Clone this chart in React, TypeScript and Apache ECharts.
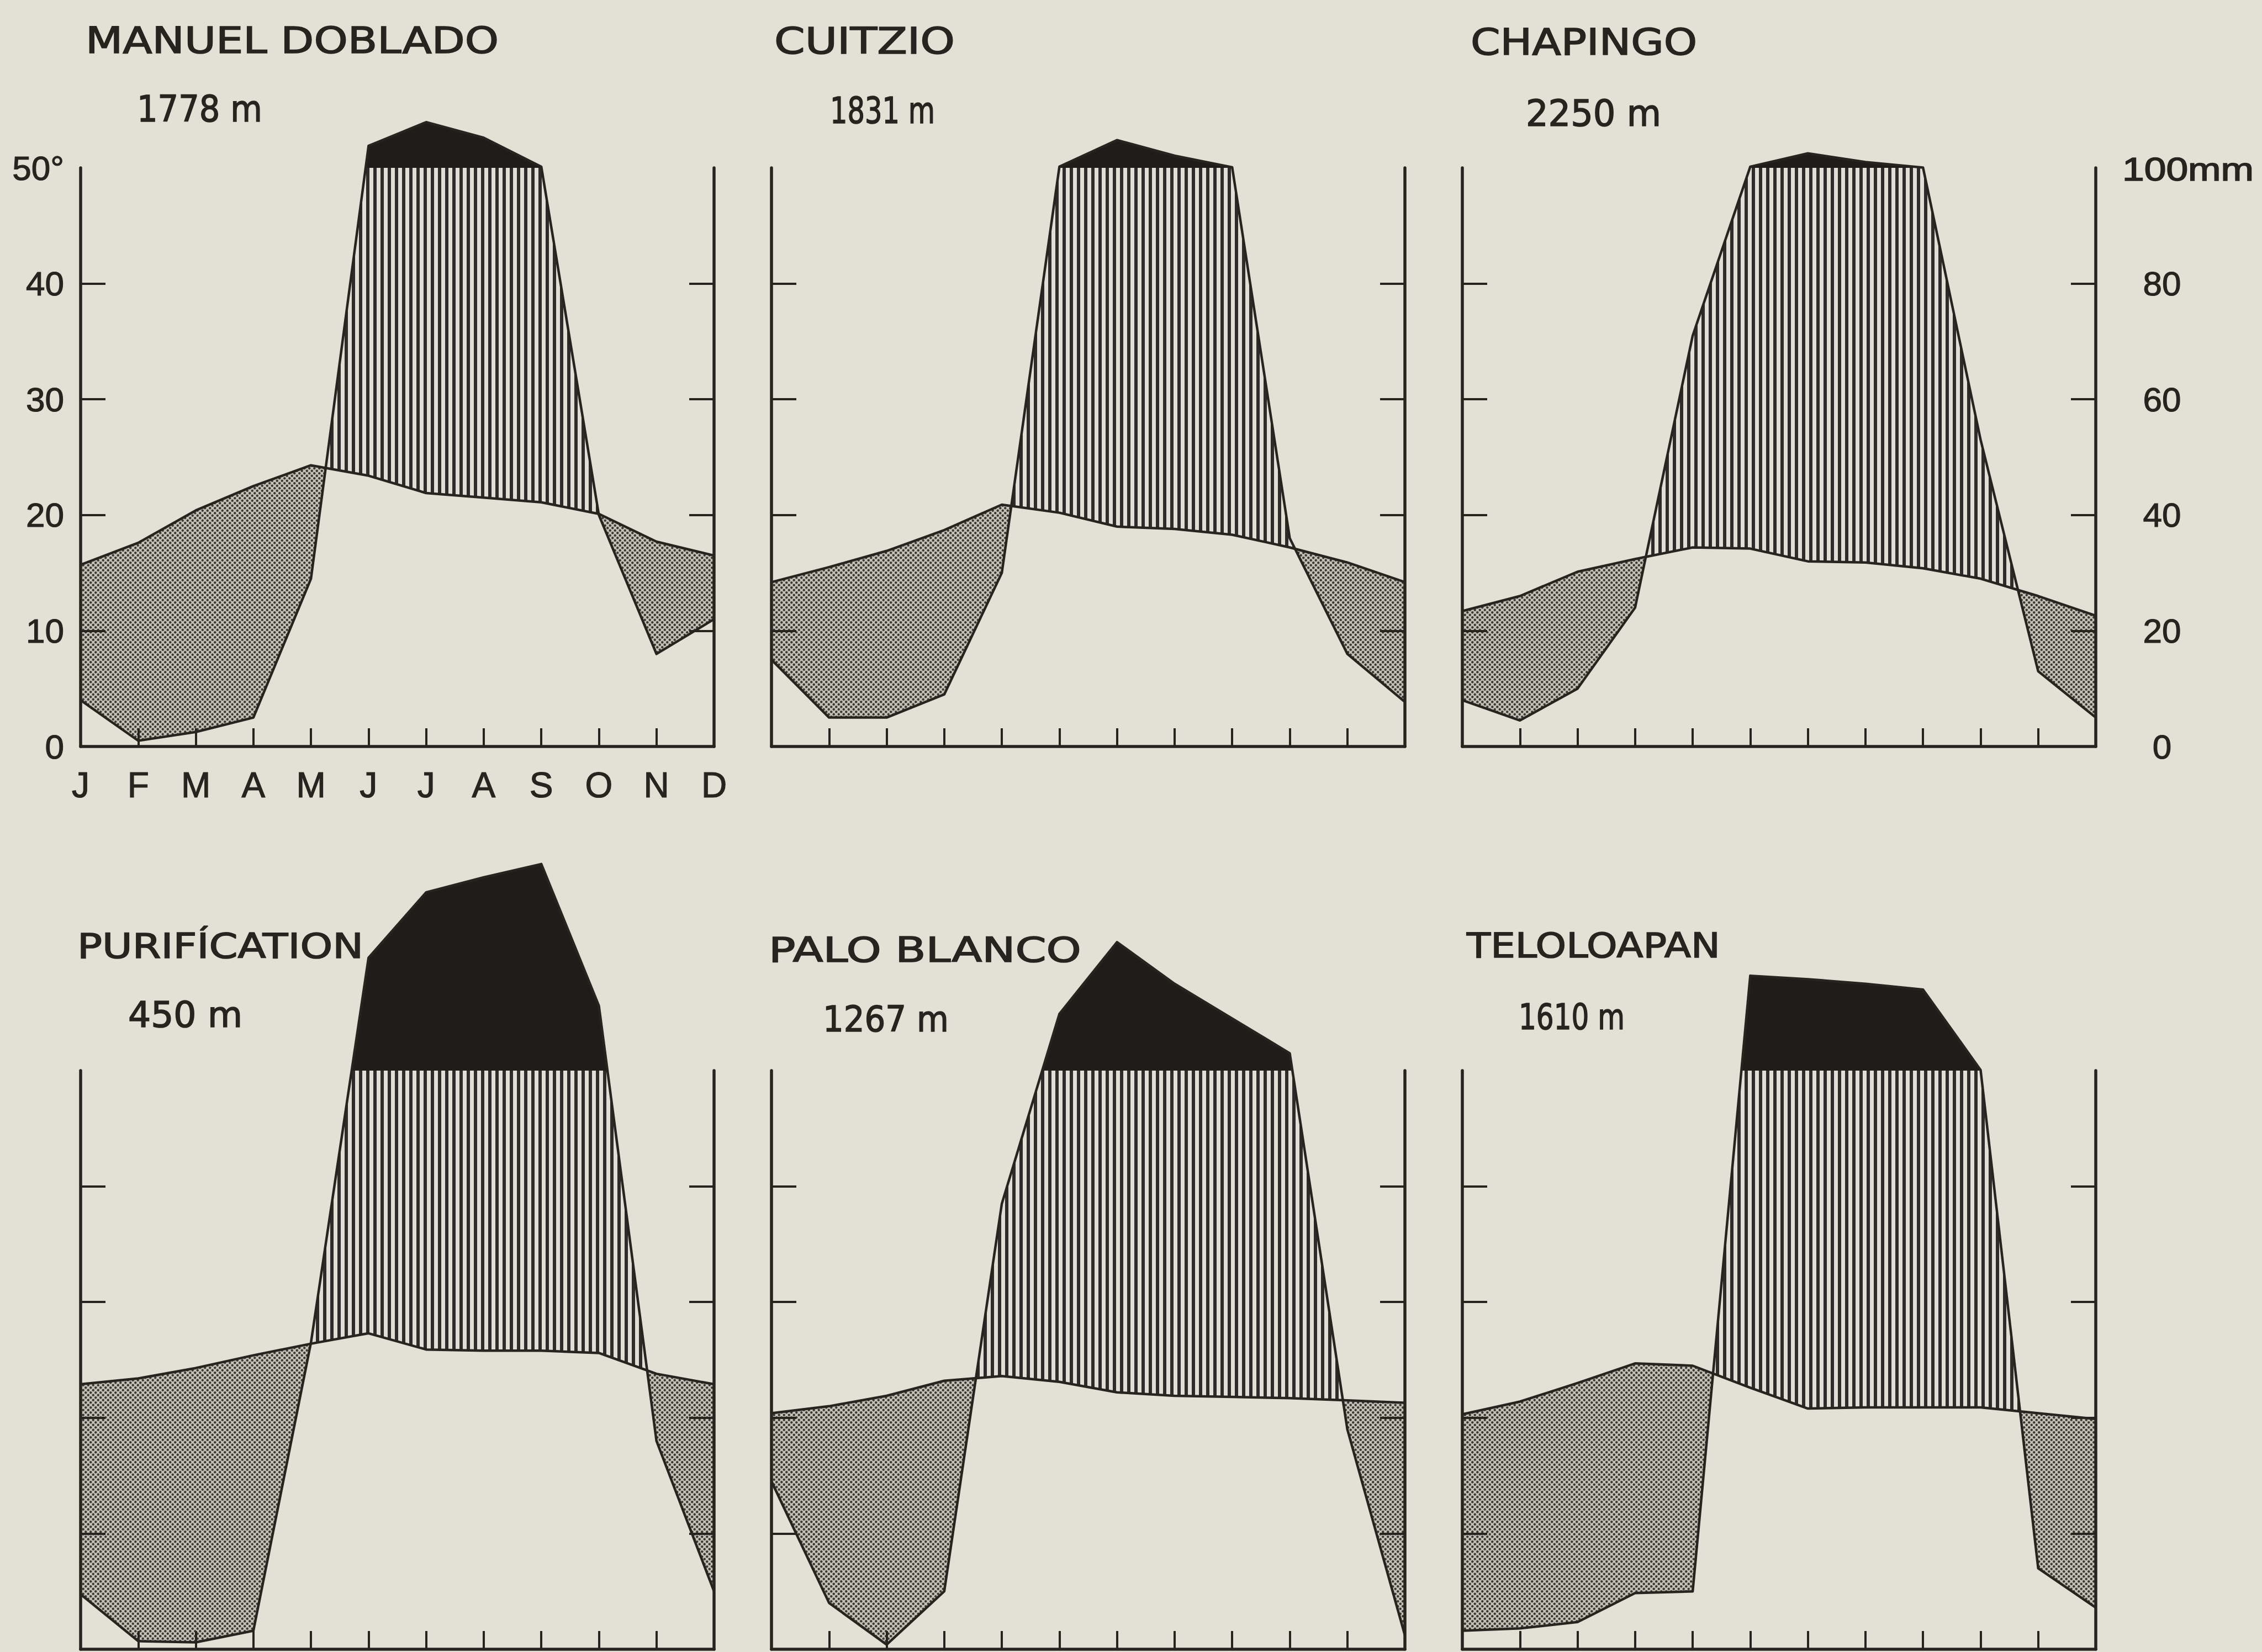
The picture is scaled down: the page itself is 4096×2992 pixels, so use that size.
import React, { useEffect, useRef } from "react";
import * as echarts from "echarts";

// ---------------- data ----------------
const months = ["J", "F", "M", "A", "M", "J", "J", "A", "S", "O", "N", "D"];
const tempTicks = [0, 10, 20, 30, 40, 50];
const precipTicks = [0, 20, 40, 60, 80, 100];

const stationNames = ["MANUEL DOBLADO", "CUITZIO", "CHAPINGO", "PURIFÍCATION", "PALO BLANCO", "TELOLOAPAN"];
const stationAltitudes = ["1778 m", "1831 m", "2250 m", "450 m", "1267 m", "1610 m"];

// mean monthly temperature (°C) and precipitation (mm)
const tempManuelDoblado = [15.7, 17.6, 20.4, 22.5, 24.3, 23.4, 21.9, 21.5, 21.1, 20.1, 17.7, 16.5];
const precipManuelDoblado = [8, 1, 2.5, 5, 29, 138, 179, 152, 102, 40, 16, 22];

const tempCuitzio = [14.2, 15.5, 16.9, 18.7, 20.9, 20.2, 19.0, 18.8, 18.3, 17.2, 15.9, 14.2];
const precipCuitzio = [15, 5, 5, 9, 30, 102, 148, 121, 101, 36, 16, 7.7];

const tempChapingo = [11.7, 13.0, 15.1, 16.2, 17.2, 17.1, 16.0, 15.9, 15.4, 14.5, 13.0, 11.3];
const precipChapingo = [8, 4.5, 10, 24, 71, 102, 125, 110, 100.5, 53, 13, 5];

const tempPurification = [22.9, 23.4, 24.3, 25.4, 26.4, 27.3, 25.9, 25.8, 25.8, 25.6, 23.8, 22.9];
const precipPurification = [9.5, 1.4, 1.2, 3.2, 53, 295, 408, 434, 457, 212, 36, 10];

const tempPaloBlanco = [20.4, 21.0, 21.9, 23.2, 23.6, 23.1, 22.2, 21.9, 21.8, 21.7, 21.5, 21.3];
const precipPaloBlanco = [29, 8, 0.8, 10, 77, 198, 322, 250, 190, 130, 38, 2.4];

const tempTeloloapan = [20.3, 21.4, 23.0, 24.7, 24.5, 22.6, 20.8, 20.9, 20.9, 20.9, 20.4, 19.9];
const precipTeloloapan = [3.2, 3.6, 4.7, 9.7, 10, 264, 258, 250, 240, 101, 14, 7.2];

const stationTemps = [tempManuelDoblado, tempCuitzio, tempChapingo, tempPurification, tempPaloBlanco, tempTeloloapan];
const stationPrecips = [precipManuelDoblado, precipCuitzio, precipChapingo, precipPurification, precipPaloBlanco, precipTeloloapan];

// ---------------- layout / style ----------------
const BG = "#e2e1d5";
const INK = "#26241f";
const BLACK = "#1f1c19";
const COL_LEFT = [146, 1397, 2648];
const COL_WIDTH = 1147;
const ROW_TOP = [304, 1939];
const ROW_HEIGHT = 1048;
const AXIS_W = 5.5;
const TICK_W = 4;
const LINE_W = 4.5;

// text boxes: [x left, x right, y centre]
const NAME_BOXES = [
  [155, 903, 73],
  [1402, 1729, 74],
  [2663, 3073, 76],
  [140, 658, 1713],
  [1392, 1958, 1720],
  [2656, 3115, 1713],
];
const NAME_SIZES = [66, 66, 66, 62, 62, 62];
const ALT_BOXES = [
  [248, 475, 197],
  [1503, 1693, 200],
  [2763, 3008, 205],
  [232, 439, 1838],
  [1490, 1718, 1846],
  [2750, 2942, 1842],
];
const ALT_SIZES = [66, 66, 66, 64, 64, 64];
const MM_BOX = [3843, 4081, 306];

const TITLE_FONT = '"DejaVu Sans", sans-serif';
const NUM_FONT = '"Liberation Sans", Arial, sans-serif';

// Walter-Lieth precipitation scale: 20 mm = 10 °C up to 100 mm, 1/10 above
function displayPrecip(p: number) {
  return p <= 100 ? p / 2 : 50 + (p - 100) / 20;
}

type Pt = { x: number; t: number; d: number };

function refine(T: number[], D: number[]): Pt[] {
  const pts: Pt[] = [];
  for (let i = 0; i < T.length; i++) {
    pts.push({ x: i, t: T[i], d: D[i] });
    if (i === T.length - 1) break;
    const t0 = T[i], t1 = T[i + 1], d0 = D[i], d1 = D[i + 1];
    const fs: number[] = [];
    const a0 = d0 - t0, a1 = d1 - t1;
    if (a0 * a1 < 0) fs.push(a0 / (a0 - a1));
    const b0 = d0 - 50, b1 = d1 - 50;
    if (b0 * b1 < 0) fs.push(b0 / (b0 - b1));
    fs.sort((a, b) => a - b);
    for (const f of fs) pts.push({ x: i + f, t: t0 + (t1 - t0) * f, d: d0 + (d1 - d0) * f });
  }
  return pts;
}

function makeHatch() {
  const w = 13;
  const cv = document.createElement("canvas");
  cv.width = w;
  cv.height = w;
  const ctx = cv.getContext("2d")!;
  ctx.fillStyle = "#e0dfd5";
  ctx.fillRect(0, 0, w, w);
  ctx.fillStyle = "#2e2c28";
  ctx.fillRect(0, 0, 6, w);
  return { image: cv.toDataURL(), repeat: "repeat", imageWidth: w, imageHeight: w };
}

function makeStipple() {
  const w = 9;
  const cv = document.createElement("canvas");
  cv.width = w;
  cv.height = w;
  const ctx = cv.getContext("2d")!;
  ctx.fillStyle = "#c3c2b7";
  ctx.fillRect(0, 0, w, w);
  ctx.fillStyle = "#3a3934";
  for (const [cx, cy] of [[2.25, 2.25], [6.75, 6.75]]) {
    ctx.beginPath();
    ctx.arc(cx, cy, 2.2, 0, Math.PI * 2);
    ctx.fill();
  }
  return { image: cv.toDataURL(), repeat: "repeat", imageWidth: w, imageHeight: w };
}

function buildPanelShapes(T: number[], P: number[], api: any, hatch: any, stipple: any) {
  const D = P.map(displayPrecip);
  const pts = refine(T, D);
  const c = (x: number, y: number) => api.coord([x, y]);
  const band = (upper: (p: Pt) => number, lower: (p: Pt) => number) => {
    const top = pts.map((p) => c(p.x, upper(p)));
    const bot = pts.slice().reverse().map((p) => c(p.x, lower(p)));
    return top.concat(bot);
  };
  const arid = band((p) => p.t, (p) => Math.min(p.t, p.d));
  const humid = band((p) => Math.max(p.t, Math.min(p.d, 50)), (p) => p.t);
  const wet = band((p) => Math.max(p.d, 50), () => 50);
  return {
    type: "group",
    children: [
      { type: "polygon", shape: { points: arid }, style: { fill: stipple, stroke: null } },
      { type: "polygon", shape: { points: humid }, style: { fill: hatch, stroke: null } },
      { type: "polygon", shape: { points: wet }, style: { fill: BLACK, stroke: null } },
    ],
  };
}

function fitText(text: string, box: number[], size: number, family: string, measure: (t: string, f: string) => number) {
  const font = `${size}px ${family}`;
  const w = measure(text, font);
  const scaleX = w > 0 ? (box[1] - box[0]) / w : 1;
  return {
    type: "text",
    x: box[0],
    y: box[2],
    scaleX,
    z: 20,
    style: {
      text,
      fontSize: size,
      fontFamily: family,
      fill: INK,
      stroke: INK,
      lineWidth: 1.6,
      align: "left",
      verticalAlign: "middle",
      textAlign: "left",
      textVerticalAlign: "middle",
    },
  };
}

function buildOption() {
  const hatch = makeHatch();
  const stipple = makeStipple();
  const mctx = document.createElement("canvas").getContext("2d")!;
  const measure = (t: string, f: string) => {
    mctx.font = f;
    return mctx.measureText(t).width;
  };

  const grids: any[] = [];
  const xAxes: any[] = [];
  const yAxes: any[] = [];
  const series: any[] = [];
  const graphics: any[] = [];

  const labelStyle = {
    fontFamily: NUM_FONT,
    color: INK,
    textBorderColor: INK,
    textBorderWidth: 1.2,
  };

  for (let k = 0; k < 6; k++) {
    const col = k % 3;
    const row = Math.floor(k / 3);
    const T = stationTemps[k];
    const P = stationPrecips[k];
    grids.push({
      left: COL_LEFT[col],
      top: ROW_TOP[row],
      width: COL_WIDTH,
      height: ROW_HEIGHT,
      containLabel: false,
      outerBoundsMode: "none",
    });
    xAxes.push({
      gridIndex: k,
      type: "value",
      min: 0,
      max: 11,
      interval: 1,
      z: 10,
      axisLine: { show: true, onZero: false, lineStyle: { color: INK, width: AXIS_W } },
      axisTick: { show: true, inside: true, length: 33, lineStyle: { color: INK, width: TICK_W } },
      axisLabel: {
        show: k === 0,
        margin: 38,
        fontSize: 64,
        ...labelStyle,
        formatter: (v: number) => months[Math.round(v)] ?? "",
      },
      splitLine: { show: false },
    });
    yAxes.push({
      gridIndex: k,
      type: "value",
      position: "left",
      min: tempTicks[0],
      max: tempTicks[tempTicks.length - 1],
      interval: 10,
      z: 10,
      axisLine: { show: true, onZero: false, lineStyle: { color: INK, width: AXIS_W } },
      axisTick: {
        show: true,
        inside: true,
        length: 45,
        customValues: tempTicks.slice(1, -1),
        lineStyle: { color: INK, width: TICK_W },
      },
      axisLabel: {
        show: k === 0,
        margin: 30,
        fontSize: 62,
        ...labelStyle,
        formatter: (v: number) => (v === 50 ? "50°" : String(v)),
      },
      splitLine: { show: false },
    });
    yAxes.push({
      gridIndex: k,
      type: "value",
      position: "right",
      min: precipTicks[0],
      max: precipTicks[precipTicks.length - 1],
      interval: 20,
      z: 10,
      axisLine: { show: true, onZero: false, lineStyle: { color: INK, width: AXIS_W } },
      axisTick: {
        show: true,
        inside: true,
        length: 45,
        customValues: precipTicks.slice(1, -1),
        lineStyle: { color: INK, width: TICK_W },
      },
      axisLabel: {
        show: k === 2,
        margin: 120,
        align: "center",
        fontSize: 62,
        ...labelStyle,
        customValues: precipTicks.slice(0, -1),
        formatter: (v: number) => (v === 100 ? "" : String(v)),
      },
      splitLine: { show: false },
    });

    series.push({
      type: "custom",
      xAxisIndex: k,
      yAxisIndex: 2 * k,
      clip: false,
      silent: true,
      z: 2,
      encode: { x: 0, y: 1 },
      data: months.map((_, i) => [i, T[i], P[i]]),
      renderItem: (params: any, api: any) =>
        params.dataIndex === 0 ? buildPanelShapes(T, P, api, hatch, stipple) : null,
    });
    series.push({
      type: "line",
      name: stationNames[k] + " temperature",
      xAxisIndex: k,
      yAxisIndex: 2 * k,
      data: T.map((t, i) => [i, t]),
      symbol: "none",
      clip: false,
      silent: true,
      z: 3,
      lineStyle: { color: INK, width: LINE_W, join: "round" },
    });
    series.push({
      type: "line",
      name: stationNames[k] + " precipitation",
      xAxisIndex: k,
      yAxisIndex: 2 * k,
      data: P.map((p, i) => [i, displayPrecip(p)]),
      symbol: "none",
      clip: false,
      silent: true,
      z: 3,
      lineStyle: { color: INK, width: LINE_W, join: "round" },
    });

    graphics.push(fitText(stationNames[k], NAME_BOXES[k], NAME_SIZES[k], TITLE_FONT, measure));
    graphics.push(fitText(stationAltitudes[k], ALT_BOXES[k], ALT_SIZES[k], TITLE_FONT, measure));
  }
  graphics.push(fitText("100mm", MM_BOX, 60, NUM_FONT, measure));

  return {
    animation: false,
    backgroundColor: BG,
    grid: grids,
    xAxis: xAxes,
    yAxis: yAxes,
    series,
    graphic: graphics,
  };
}

export default function App() {
  const ref = useRef<HTMLDivElement>(null);
  useEffect(() => {
    document.body.style.margin = "0";
    document.body.style.background = BG;
    const el = ref.current;
    if (!el) return;
    const chart = echarts.init(el, null, { renderer: "svg" });
    chart.setOption(buildOption() as any);
    return () => {
      chart.dispose();
    };
  }, []);
  return <div ref={ref} style={{ position: "fixed", left: 0, top: 0, width: 4096, height: 2992 }} />;
}
